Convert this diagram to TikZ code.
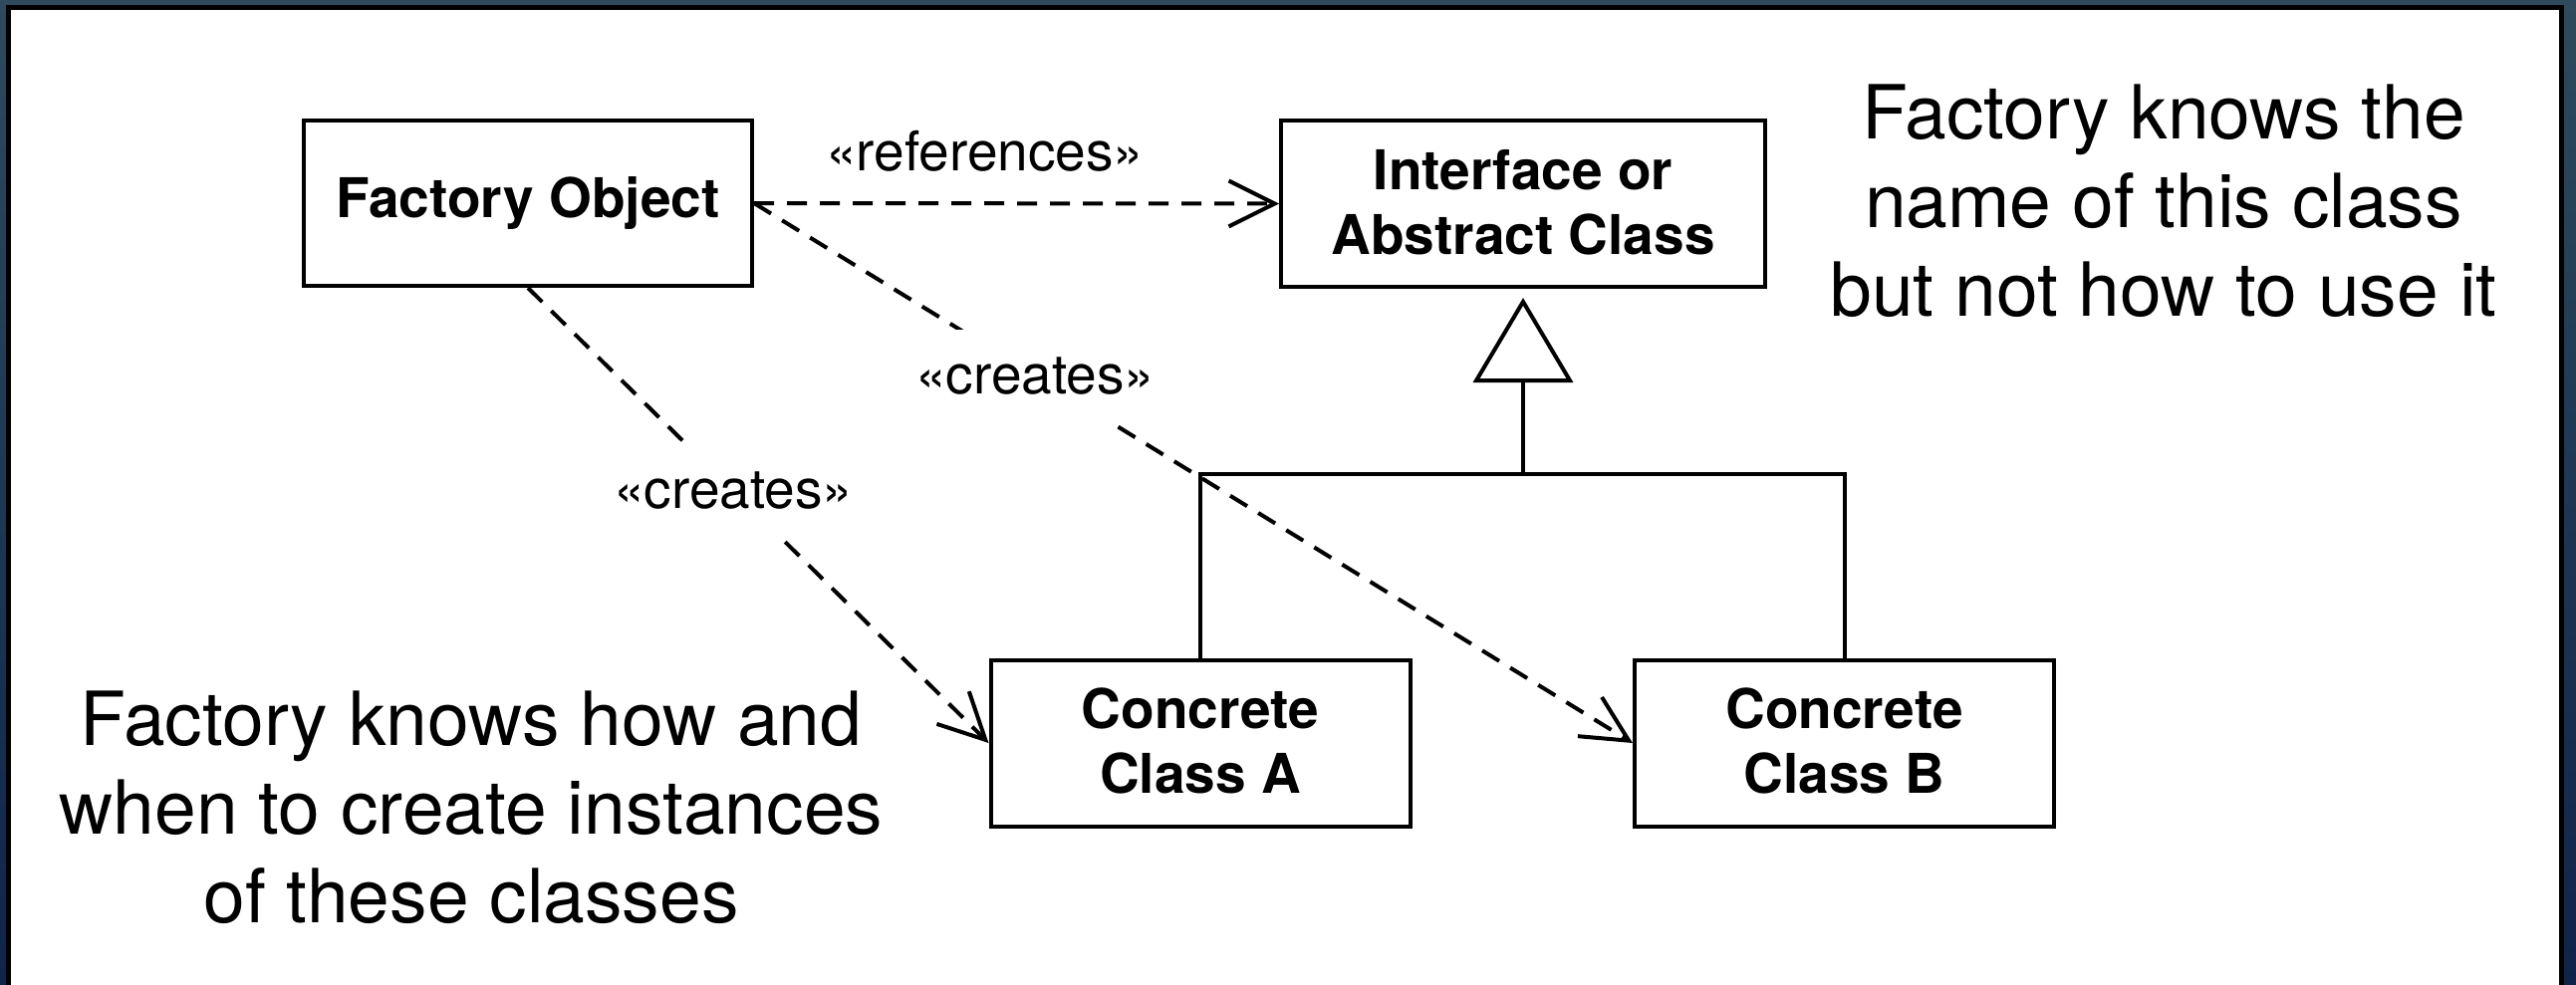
\documentclass[tikz,border=0pt]{standalone}
\usepackage{fontspec}
\setmainfont{TeX Gyre Heros}
\usetikzlibrary{arrows.meta}
\definecolor{bgtop}{HTML}{2E4A5C}
\definecolor{bgbot}{HTML}{10244A}
\begin{document}
\begin{tikzpicture}[x=1pt,y=-1pt,
  cls/.style={draw, line width=4pt, fill=white, inner sep=0pt, align=center,
    font=\fontsize{55}{65}\selectfont\bfseries},
  dep/.style={line width=4pt, dash pattern=on 20pt off 13pt,
    -{Straight Barb[length=46pt,width=46pt,line width=4pt]}},
  inh/.style={line width=4pt, line join=miter,
    -{Triangle[open,length=85pt,width=100pt,line width=4pt]}},
  solidline/.style={line width=4pt},
  lbl/.style={font=\fontsize{55}{62}\selectfont, inner sep=0pt},
  gaplbl/.style={lbl, fill=white, inner xsep=2pt, inner ysep=28pt},
  note/.style={font=\fontsize{75}{89}\selectfont, align=center, inner sep=0pt}]
\useasboundingbox (0,0) rectangle (2586,988);
\shade[top color=bgtop, bottom color=bgbot] (0,0) rectangle (2586,988);
\draw[line width=5pt, fill=white] (8,7.5) rectangle (2571.5,1005);

\node[cls, minimum width=450pt, minimum height=166pt] (fo) at (530,204) {Factory Object};
\node[cls, minimum width=486pt, minimum height=167pt] (ia) at (1529,204.5) {Interface or\\Abstract Class\rule[-4pt]{0pt}{1pt}};
\node[cls, minimum width=421pt, minimum height=167pt] (ca) at (1205,746) {Concrete\\Class A\rule[-4pt]{0pt}{1pt}};
\node[cls, minimum width=421pt, minimum height=167pt] (cb) at (1851.5,746) {Concrete\\Class B\rule[-4pt]{0pt}{1pt}};

\coordinate (jn) at (1529,476);
\draw[inh, shorten >=9pt] (ca.north) |- (jn) -- (ia.south);
\draw[solidline] (cb.north) |- (jn);

\draw[dep] (fo.east) -- (ia.west)
  node[lbl, pos=0.44, anchor=south, yshift=30pt] (lref) {«references»};
\draw[dep] (fo.south) -- (ca.west)
  node[gaplbl, pos=0.446] (lcra) {«creates»};
\draw[dep] (fo.east) -- (cb.west)
  node[gaplbl, pos=0.32] (lcrb) {«creates»};

\node[note] (n1) at (2172,202) {Factory knows the\\name of this class\\but not how to use it};
\node[note] (n2) at (473,811) {Factory knows how and\\when to create instances\\of these classes};
\end{tikzpicture}
\end{document}
